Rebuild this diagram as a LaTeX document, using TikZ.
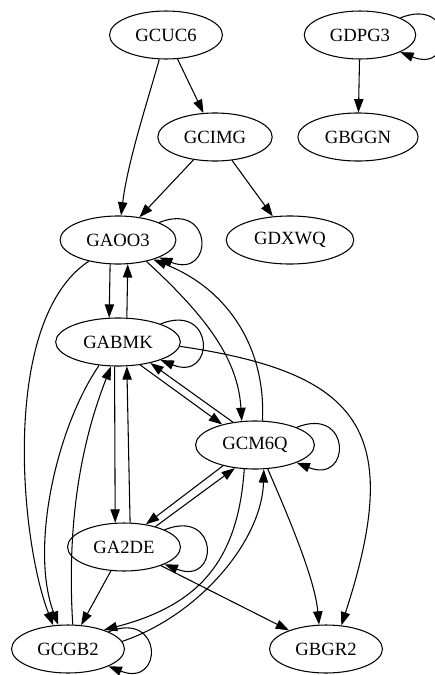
\documentclass[tikz,border=0pt]{standalone}
\usepackage{fontspec}
\setmainfont{Liberation Serif}
\usetikzlibrary{shapes.geometric,arrows.meta}

\begin{document}
\begin{tikzpicture}[x=0.75pt,y=-0.75pt,
    every node/.style={draw,ellipse,minimum height=36pt,inner xsep=7pt,
      inner ysep=0pt,font=\fontsize{14pt}{16pt}\selectfont},
    >={Triangle[length=10pt,width=7pt]},line width=0.8pt]

    \useasboundingbox (0,0) rectangle (435,675);

    \node (GCUC6) at (166,35) {GCUC6};
    \node (GDPG3) at (360,35) {GDPG3};
    \node (GCIMG) at (215,137) {GCIMG};
    \node (GBGGN) at (358,137) {GBGGN};
    \node (GAOO3) at (118,240) {GAOO3};
    \node (GDXWQ) at (290,240) {GDXWQ};
    \node (GABMK) at (118,342) {GABMK};
    \node (GCM6Q) at (255,445) {GCM6Q};
    \node (GA2DE) at (124,547) {GA2DE};
    \node (GCGB2) at (68,649) {GCGB2};
    \node (GBGR2) at (326,649) {GBGR2};

    \draw[->] (GCUC6) .. controls (148,100) and (128,160) .. (GAOO3);
    \draw[->] (GCUC6) -- (GCIMG);
    \draw[->] (GCIMG) -- (GAOO3);
    \draw[->] (GCIMG) -- (GDXWQ);
    \draw[->] (GDPG3) -- (GBGGN);

    \draw[->] (GAOO3.-108) -- (GABMK.110);
    \draw[->] (GABMK.70) -- (GAOO3.-68);
    \draw[->] (GAOO3.-37) .. controls (208,318) and (238,360) .. (GCM6Q.119);
    \draw[->] (GCM6Q.73) .. controls (266,350) and (230,290) .. (GAOO3.-29);
    \draw[->] (GAOO3.-144) .. controls (0,320) and (20,540) .. (GCGB2.122);

    \draw[->] (GABMK.-46) -- (GCM6Q.148);
    \draw[->] (GCM6Q.134) -- (GABMK.-33);
    \draw[->] (GABMK.-4) .. controls (361,373) and (405,430) .. (GBGR2.57);
    \draw[->] (GABMK.-129) .. controls (55,430) and (30,550) .. (GCGB2.112);
    \draw[->] (GCGB2.79) .. controls (65,500) and (90,420) .. (GABMK.-106);
    \draw[->] (GABMK.-98) -- (GA2DE.110);
    \draw[->] (GA2DE.76) -- (GABMK.-70);

    \draw[->] (GCM6Q.-147) -- (GA2DE.46);
    \draw[->] (GA2DE.33) -- (GCM6Q.-131);
    \draw[->] (GCM6Q.-114) .. controls (238,560) and (200,605) .. (GCGB2.28);
    \draw[->] (GCGB2.8) .. controls (200,615) and (262,540) .. (GCM6Q.-70);
    \draw[->] (GCM6Q.-62) .. controls (290,520) and (315,580) .. (GBGR2.106);
    \draw[->] (GA2DE) -- (GBGR2);
    \draw[->] (GA2DE) -- (GCGB2);

    % self loops
    \foreach \n in {GDPG3,GAOO3,GABMK,GCM6Q,GA2DE,GCGB2}
      \draw[->] (\n.23) .. controls +(55,-22) and +(55,22) .. (\n.-23);
  \end{tikzpicture}
\end{document}
